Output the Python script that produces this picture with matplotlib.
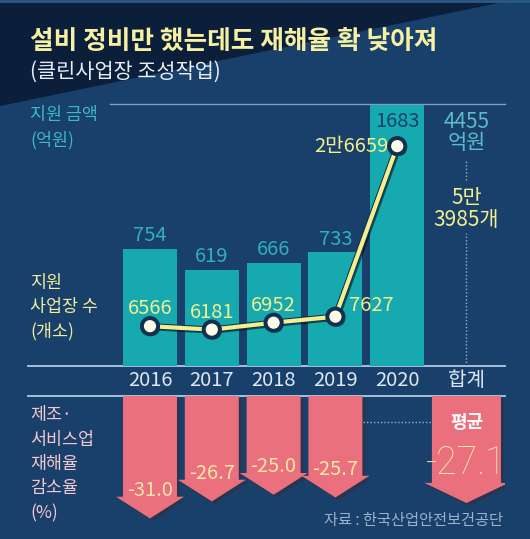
import numpy as np
import matplotlib.pyplot as plt
from matplotlib.patches import Polygon, FancyArrow
import matplotlib.patheffects as pe

plt.rcParams['font.family'] = ['Noto Sans CJK KR', 'DejaVu Sans']

# data
years = ['2016', '2017', '2018', '2019', '2020']
funds = [754, 619, 666, 733, 1683]            # 지원 금액 (억원)
sites = [6566, 6181, 6952, 7627, 26659]       # 지원 사업장 수 (개소)
site_labels = ['6566', '6181', '6952', '7627', '2만6659']
cut_rate = [-31.0, -26.7, -25.0, -25.7]       # 재해율 감소율 (%), 2016~2019
total_name = '합계'
total_funds = ['4455', '억원']
total_sites = ['5만', '3985개']
avg_cut = -27.1

BG = '#18406a'
DARK = '#0b1e3a'
TEAL = '#16aab0'
PINK = '#e9707c'
YEL = '#f3ee8e'

W, H = 530, 539
fig = plt.figure(figsize=(W / 100, H / 100), dpi=100, facecolor=BG)

# background / decoration layer in pixel coordinates
bg = fig.add_axes([0, 0, 1, 1], zorder=-1)
bg.set_xlim(0, W)
bg.set_ylim(H, 0)
bg.axis('off')
bg.add_patch(Polygon([(0, 0), (513, 0), (0, 106)], closed=True, color=DARK, lw=0))
bg.plot([0, W], [1, 1], color='#2b5a8a', lw=2)

bg.text(30, 41, '설비 정비만 했는데도 재해율 확 낮아져', color='#f6f0a2',
        fontsize=18.5, fontweight='bold', va='center', ha='left')
bg.text(30, 72, '(클린사업장 조성작업)', color='#e6edf5', fontsize=15,
        va='center', ha='left')

bg.text(30, 115, '지원 금액', color='#3fb7c7', fontsize=12.5, va='center')
bg.text(30, 140, '(억원)', color='#3fb7c7', fontsize=12.5, va='center')
for i, s in enumerate(['지원', '사업장 수', '(개소)']):
    bg.text(30, 283 + 24 * i, s, color='#efec9c', fontsize=12.5, va='center')
for i, s in enumerate(['제조·', '서비스업', '재해율', '감소율', '(%)']):
    bg.text(30, 415 + 24.5 * i, s, color='#f2c8ce', fontsize=12.5, va='center')
bg.text(503, 520, '자료 : 한국산업안전보건공단', color='#9cb2ca', fontsize=11,
        va='center', ha='right')

bg.plot([110, 505], [104, 104], color='#7f9fc2', lw=1)
bg.plot([28, 505], [366, 366], color='#b0cbe6', lw=1.3)
bg.plot([28, 505], [396, 396], color='#b0cbe6', lw=1.3)

x = np.arange(len(years))
xt = len(years) + 0.12     # position of the total column
xl = (-1.974, 5.744)

# top chart: bars + line
ax = fig.add_axes([28 / W, (H - 366) / H, 477 / W, 262 / H])
ax.patch.set_alpha(0)
ax.set_xlim(*xl)
ax.set_ylim(0, 1690)
for s in ax.spines.values():
    s.set_visible(False)
ax.set_yticks([])
ax.bar(x, funds, width=0.874, color=TEAL, zorder=2)
for i, v in enumerate(funds):
    if i == len(funds) - 1:
        ax.annotate(str(v), (x[i], v), xytext=(0, -16), textcoords='offset points',
                    ha='center', va='baseline', color='#17406a', fontsize=14.5)
    else:
        ax.annotate(str(v), (x[i], v), xytext=(0, 5.5), textcoords='offset points',
                    ha='center', va='baseline', color='#2fb1b9', fontsize=14.5)
ax.set_xticks(list(x) + [xt], years + [total_name])
ax.tick_params(axis='x', length=0, pad=3, labelsize=14.5, labelcolor='#dfe8f2')

ax.vlines(xt, 0, 860, color='#9fb0c2', lw=1, linestyles=(0, (1, 1.5)))
ax.vlines(xt, 1200, 1330, color='#9fb0c2', lw=1, linestyles=(0, (1, 1.5)))
ax.text(xt, 1575, total_funds[0], color='#5cbccb', fontsize=15, ha='center', va='center')
ax.text(xt, 1438, total_funds[1], color='#5cbccb', fontsize=15, ha='center', va='center')
ax.text(xt, 1085, total_sites[0], color=YEL, fontsize=15, ha='center', va='center')
ax.text(xt, 942, total_sites[1], color=YEL, fontsize=15, ha='center', va='center')

ax2 = ax.twinx()
ax2.set_ylim(2120, 31360)
ax2.set_yticks([])
for s in ax2.spines.values():
    s.set_visible(False)
ax2.plot(x, sites, color=YEL, lw=3, marker='o', ms=10, mfc='#fdfbe8',
         mec='#12304f', mew=1.2, zorder=5,
         path_effects=[pe.SimpleLineShadow(offset=(1.5, -1.5), alpha=0.5),
                       pe.Stroke(linewidth=4.5, foreground='#12304f'), pe.Normal()])
for i, v in enumerate(sites):
    if i < 3:
        ax2.annotate(site_labels[i], (x[i], v), xytext=(0, 8.5), textcoords='offset points',
                     ha='center', va='baseline', color=YEL, fontsize=14.5)
    elif i == 3:
        ax2.annotate(site_labels[i], (x[i], v), xytext=(10, 4), textcoords='offset points',
                     ha='left', va='baseline', color=YEL, fontsize=14.5)
    else:
        ax2.annotate(site_labels[i], (x[i], v), xytext=(-6, 0), textcoords='offset points',
                     ha='right', va='center', color=YEL, fontsize=14.5)

# bottom chart: downward arrows
bx = fig.add_axes([28 / W, 0, 477 / W, 143 / H])
bx.patch.set_alpha(0)
bx.set_xlim(*xl)
bx.set_ylim(-36.2, 0)
bx.axis('off')
shadow = [pe.SimplePatchShadow(offset=(2, -2), alpha=0.35), pe.Normal()]
for i, v in enumerate(cut_rate):
    bx.add_patch(FancyArrow(x[i], 0, 0, v, width=0.874, head_width=1.1, head_length=5.5,
                            length_includes_head=True, color=PINK, lw=0,
                            path_effects=shadow))
    bx.text(x[i], v + 7.1, f'{v:.1f}', color='#fbe6aa', fontsize=14.5,
            ha='center', va='center', zorder=5)
bx.add_patch(FancyArrow(xt, 0, 0, avg_cut, width=1.117, head_width=1.36, head_length=5.1,
                        length_includes_head=True, color=PINK, lw=0, path_effects=shadow))
bx.plot([3.45, xt - 0.56], [-6.6, -6.6], color='#9fb0c2', lw=1, ls=(0, (1, 1.5)))
bx.text(xt, -6.6, '평균', color='white', fontsize=13, fontweight='bold',
        ha='center', va='center', zorder=5)
bx.text(xt, avg_cut + 10, f'{avg_cut:.1f}', color='#fbe6aa', fontsize=27,
        family='Roboto', fontweight='light', ha='center', va='center', zorder=5)

fig.savefig('out.png', dpi=100, facecolor=BG)
